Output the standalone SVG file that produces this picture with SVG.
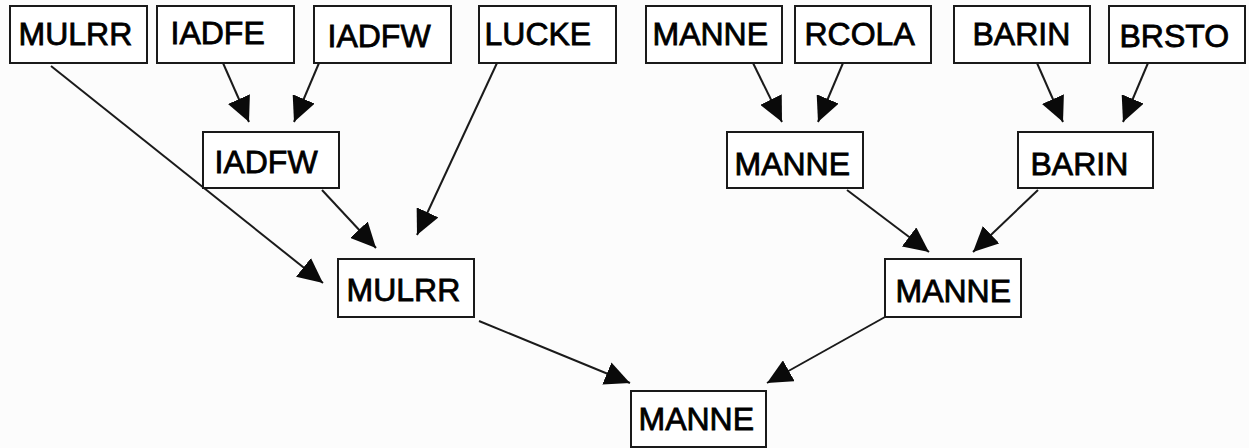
<svg xmlns="http://www.w3.org/2000/svg" width="1249" height="448" viewBox="0 0 1249 448">
  <style>
    .box rect { fill: #ffffff; stroke: #1a1a1a; stroke-width: 2; }
    .box text { font-family: "Liberation Sans", Arial, sans-serif; font-size: 32px; fill: #000000; stroke: #000000; stroke-width: 0.8px; }
    .edges line { stroke: #1a1a1a; stroke-width: 2; marker-end: url(#arrow); }
  </style>
  <defs>
    <marker id="arrow" markerUnits="userSpaceOnUse" viewBox="0 0 25 24" markerWidth="25" markerHeight="24" refX="25" refY="12" orient="auto">
      <path d="M0,0 L25,12 L0,24 Z" fill="#0a0a0a"/>
    </marker>
  </defs>
  <rect x="0" y="0" width="1249" height="448" fill="#fcfcfc"/>

  <g class="edges">
    <line x1="223" y1="63" x2="249" y2="122"/>
    <line x1="319" y1="63" x2="294" y2="122"/>
    <line x1="51" y1="66" x2="323" y2="283"/>
    <line x1="322" y1="190" x2="376" y2="248"/>
    <line x1="497" y1="63" x2="417" y2="235"/>
    <line x1="479" y1="321" x2="630" y2="383"/>
    <line x1="885" y1="317" x2="767" y2="383"/>
    <line x1="753" y1="63" x2="782" y2="122"/>
    <line x1="843" y1="63" x2="818" y2="122"/>
    <line x1="1037" y1="63" x2="1063" y2="122"/>
    <line x1="1148" y1="63" x2="1123" y2="122"/>
    <line x1="847" y1="190" x2="929" y2="252"/>
    <line x1="1038" y1="190" x2="973" y2="252"/>
  </g>

  <g id="n-mulrr-top" class="box"><rect x="10" y="6" width="137" height="57"/><text x="18.5" y="45">MULRR</text></g>
  <g id="n-iadfe-top" class="box"><rect x="157" y="6" width="137" height="57"/><text x="170.5" y="44">IADFE</text></g>
  <g id="n-iadfw-top" class="box"><rect x="314" y="6" width="137" height="57"/><text x="327.5" y="47">IADFW</text></g>
  <g id="n-lucke-top" class="box"><rect x="479" y="6" width="137" height="57"/><text x="484.5" y="45">LUCKE</text></g>
  <g id="n-manne-top" class="box"><rect x="646" y="6" width="136" height="57"/><text x="652.5" y="45">MANNE</text></g>
  <g id="n-rcola-top" class="box"><rect x="795" y="6" width="136" height="57"/><text x="804.5" y="45">RCOLA</text></g>
  <g id="n-barin-top" class="box"><rect x="954" y="6" width="136" height="57"/><text x="972.5" y="45">BARIN</text></g>
  <g id="n-brsto-top" class="box"><rect x="1109" y="6" width="136" height="57"/><text x="1119.5" y="47">BRSTO</text></g>

  <g id="n-iadfw-mid" class="box"><rect x="203" y="132" width="136" height="56"/><text x="214.5" y="173">IADFW</text></g>
  <g id="n-manne-mid" class="box"><rect x="727" y="132" width="136" height="56"/><text x="734.5" y="175">MANNE</text></g>
  <g id="n-barin-mid" class="box"><rect x="1018" y="132" width="135" height="56"/><text x="1030.5" y="175">BARIN</text></g>

  <g id="n-mulrr-low" class="box"><rect x="338" y="259" width="136" height="58"/><text x="346.5" y="301">MULRR</text></g>
  <g id="n-manne-low" class="box"><rect x="885" y="259" width="136" height="58"/><text x="895.5" y="302">MANNE</text></g>

  <g id="n-manne-root" class="box"><rect x="631" y="391" width="135" height="56"/><text x="638.5" y="430">MANNE</text></g>
</svg>
